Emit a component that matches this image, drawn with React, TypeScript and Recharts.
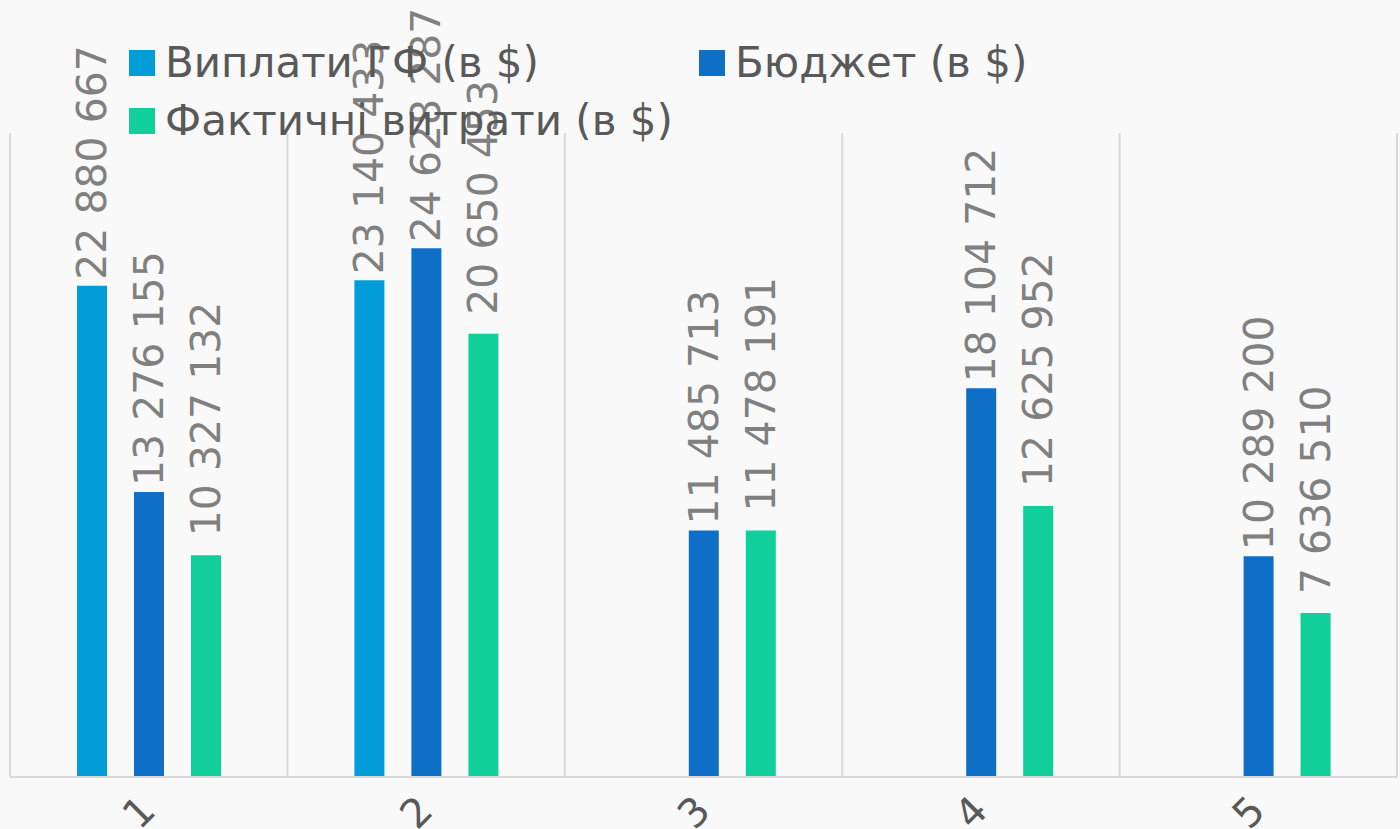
import React from "react";
import {
  BarChart,
  Bar,
  XAxis,
  YAxis,
  CartesianGrid,
  LabelList,
} from "recharts";

const categories = ["1", "2", "3", "4", "5"];
const payouts = [22880667, 23140433, null, null, null];
const budget = [13276155, 24628287, 11485713, 18104712, 10289200];
const actual = [10327132, 20650453, 11478191, 12625952, 7636510];

const seriesNames = ["Виплати ГФ (в $)", "Бюджет (в $)", "Фактичні витрати (в $)"];
const seriesColors = ["#009DD9", "#0F6FC6", "#10CF9B"];

const data = categories.map((c, i) => ({
  name: c,
  payouts: payouts[i],
  budget: budget[i],
  actual: actual[i],
}));

const FONT = "'DejaVu Sans', Verdana, sans-serif";

const fmt = (v: number) => String(v).replace(/\B(?=(\d{3})+(?!\d))/g, " ");

const VerticalLabel = (props: any) => {
  const { x, y, width, value, gap = 6 } = props;
  if (value === null || value === undefined) return null;
  const cx = x + width / 2;
  const cy = y - gap;
  return (
    <text
      x={cx}
      y={cy}
      transform={`rotate(-90, ${cx}, ${cy})`}
      textAnchor="start"
      dominantBaseline="central"
      fill="#808080"
      fontSize={41}
      fontFamily={FONT}
    >
      {fmt(value)}
    </text>
  );
};

const CategoryTick = (props: any) => {
  const { x, y, payload } = props;
  const ax = x - 12;
  const ay = y + 7;
  return (
    <text
      x={ax}
      y={ay}
      transform={`rotate(-45, ${ax}, ${ay})`}
      textAnchor="end"
      dominantBaseline="hanging"
      fill="#595959"
      fontSize={40}
      fontFamily={FONT}
    >
      {payload.value}
    </text>
  );
};

const LegendItem = ({ name, color, left, top }: any) => (
  <div
    style={{
      position: "absolute",
      left,
      top,
      display: "flex",
      alignItems: "center",
      whiteSpace: "nowrap",
    }}
  >
    <div style={{ width: 26, height: 26, background: color, marginRight: 10 }} />
    <span style={{ fontSize: 42, color: "#595959", fontFamily: FONT, lineHeight: "48px" }}>
      {name}
    </span>
  </div>
);

export default function App() {
  return (
    <div
      style={{
        position: "absolute",
        left: 0,
        top: 0,
        width: 1400,
        height: 829,
        background: "#f9f9f9",
        overflow: "hidden",
      }}
    >
      <BarChart
        width={1400}
        height={829}
        data={data}
        margin={{ top: 133, right: 3, left: 10, bottom: 0 }}
        barSize={30}
        barGap={27}
      >
        <CartesianGrid
          horizontal={false}
          stroke="#d9d9d9"
          strokeWidth={2}
          verticalCoordinatesGenerator={({ offset }: any) =>
            [...categories, ""].map(
              (_, i) => offset.left + (i * offset.width) / categories.length
            )
          }
        />
        <XAxis
          dataKey="name"
          height={52}
          tickLine={false}
          axisLine={{ stroke: "#d9d9d9", strokeWidth: 2 }}
          tick={<CategoryTick />}
          interval={0}
        />
        <YAxis hide domain={[0, 30000000]} />
        <Bar dataKey="payouts" name={seriesNames[0]} fill={seriesColors[0]} isAnimationActive={false}>
          <LabelList dataKey="payouts" content={<VerticalLabel gap={6} />} />
        </Bar>
        <Bar dataKey="budget" name={seriesNames[1]} fill={seriesColors[1]} isAnimationActive={false}>
          <LabelList dataKey="budget" content={<VerticalLabel gap={6} />} />
        </Bar>
        <Bar dataKey="actual" name={seriesNames[2]} fill={seriesColors[2]} isAnimationActive={false}>
          <LabelList dataKey="actual" content={<VerticalLabel gap={19} />} />
        </Bar>
      </BarChart>
      <LegendItem name={seriesNames[0]} color={seriesColors[0]} left={129} top={39} />
      <LegendItem name={seriesNames[1]} color={seriesColors[1]} left={699} top={39} />
      <LegendItem name={seriesNames[2]} color={seriesColors[2]} left={129} top={97} />
    </div>
  );
}
